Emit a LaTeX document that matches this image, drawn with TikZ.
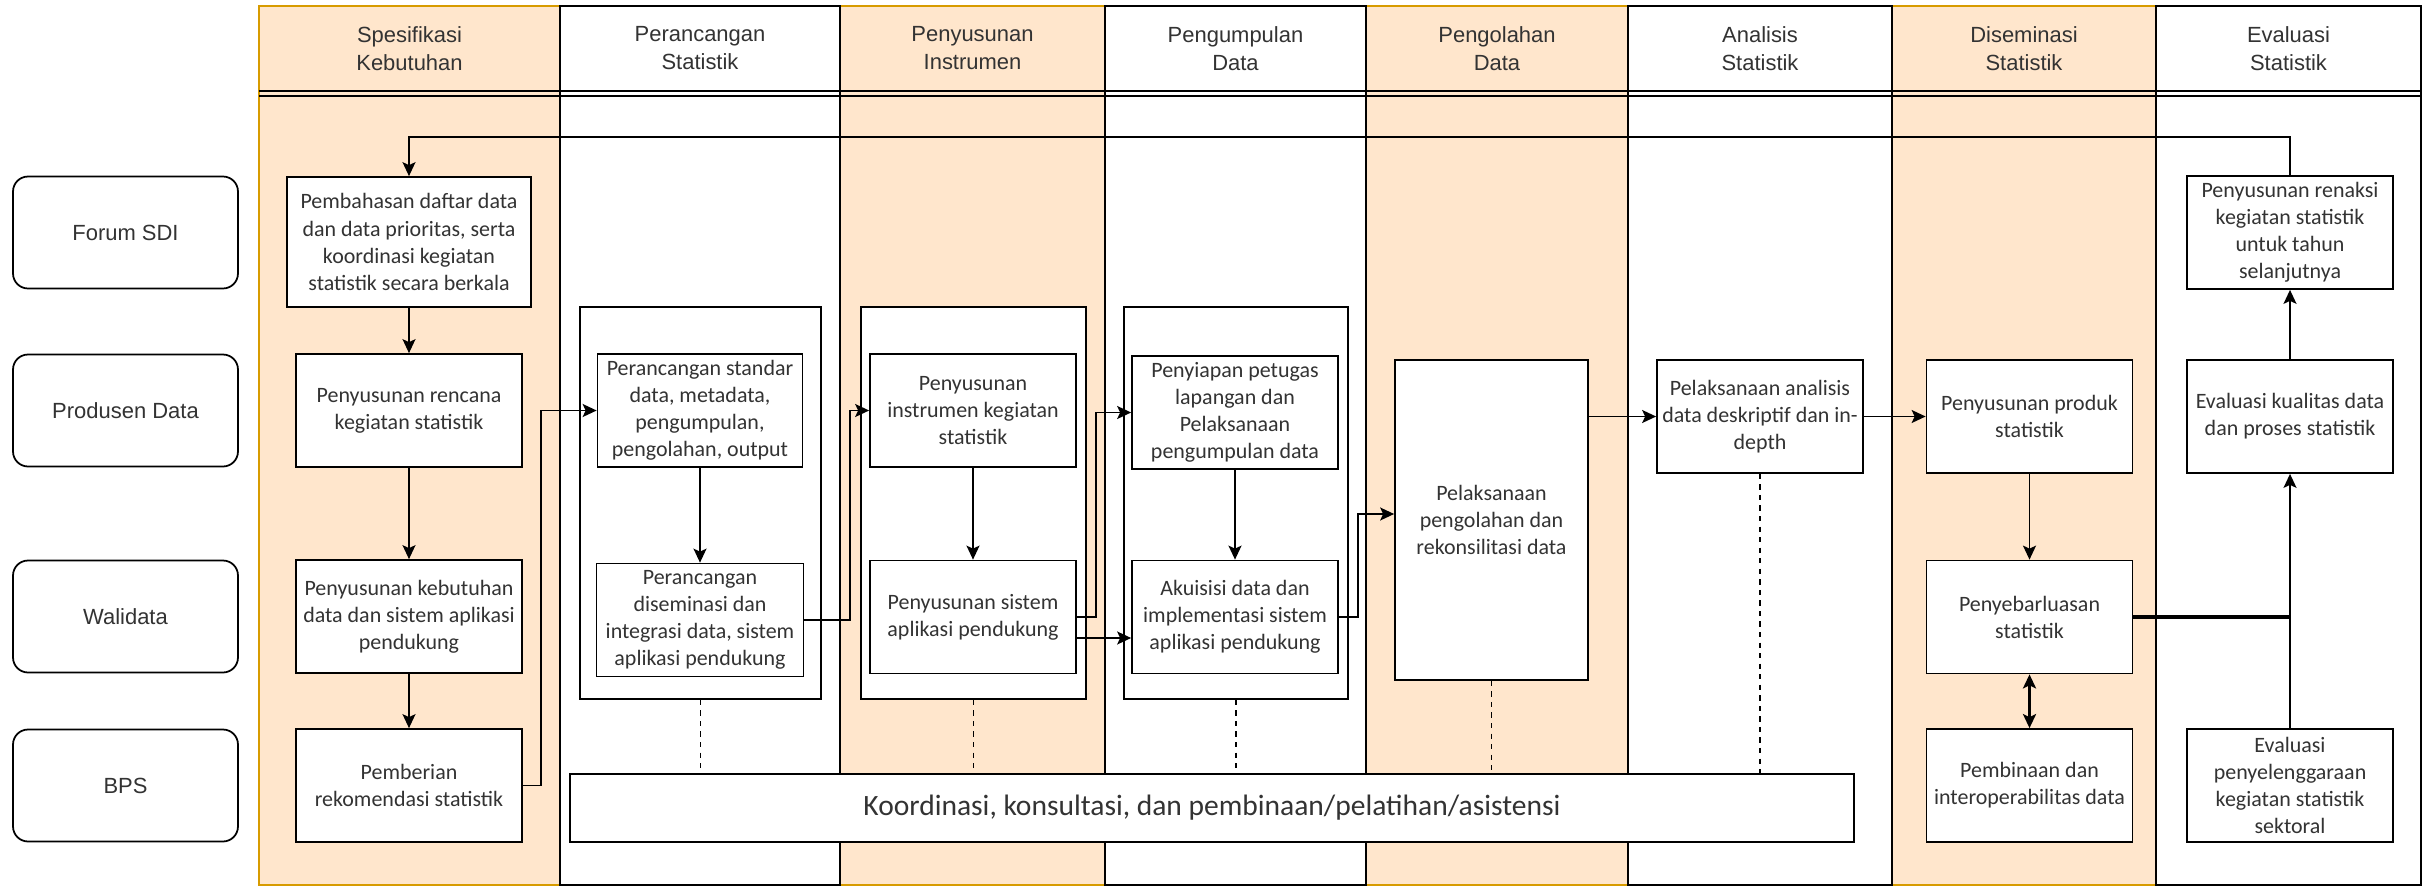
\documentclass[tikz,border=0pt]{standalone}
\usepackage{fontspec}
\setmainfont{Carlito}
\newfontfamily\helvfont{Liberation Sans}
\usetikzlibrary{arrows.meta}
\definecolor{laneorange}{HTML}{FFE6CC}
\definecolor{lanegold}{HTML}{D79B00}
\definecolor{txtgray}{HTML}{333333}

\begin{document}
\begin{tikzpicture}[x=0.02cm, y=-0.02cm,
    olane/.style={draw=lanegold, fill=laneorange, line width=1pt},
    wlane/.style={draw=black, fill=white, line width=1pt},
    head/.style={align=center, text=txtgray, font=\helvfont\fontsize{12.5}{15.9}\selectfont},
    role/.style={draw, rounded corners=0.3cm, minimum width=4.5cm, minimum height=2.24cm, line width=1pt, text=txtgray, font=\helvfont\fontsize{12.5}{15}\selectfont},
    box/.style={draw, fill=white, align=center, inner sep=1pt, minimum width=4.12cm, minimum height=2.26cm, line width=1pt, text=txtgray, font=\fontsize{12.5}{15.4}\selectfont},
    grp/.style={draw, fill=white, minimum height=7.84cm, line width=1pt},
    flow/.style={-{Stealth[length=0.28cm, width=0.26cm, inset=0.06cm]}, line width=1pt},
    link/.style={dashed, line width=0.8pt}]
    \useasboundingbox (0,0) rectangle (2425,886);
    \fill[white] (0,0) rectangle (2425,886);

    % swimlanes
    \draw[olane] (259,6) rectangle (560,885);
    \draw[olane] (840,6) rectangle (1105,885);
    \draw[olane] (1366,6) rectangle (1628,885);
    \draw[olane] (1892,6) rectangle (2156,885);
    \draw[wlane] (560,6) rectangle (840,885);
    \draw[wlane] (1105,6) rectangle (1366,885);
    \draw[wlane] (1628,6) rectangle (1892,885);
    \draw[wlane] (2156,6) rectangle (2421,885);
    \draw[line width=1pt] (259,91) -- (2421,91);
    \draw[line width=1pt] (259,96) -- (2421,96);

    \node[head] (hSpek) at (409.5,48.5) {Spesifikasi\\Kebutuhan};
    \node[head] (hRancang) at (700,48.5) {Perancangan\\Statistik};
    \node[head] (hInstrumen) at (972.5,48.5) {Penyusunan\\Instrumen};
    \node[head] (hKumpul) at (1235.5,48.5) {Pengumpulan\\Data};
    \node[head] (hOlah) at (1497,48.5) {Pengolahan\\Data};
    \node[head] (hAnalisis) at (1760,48.5) {Analisis\\Statistik};
    \node[head] (hSebar) at (2024,48.5) {Diseminasi\\Statistik};
    \node[head] (hEval) at (2288.5,48.5) {Evaluasi\\Statistik};

    % actors
    \node[role] (forum) at (125.5,232.5) {Forum SDI};
    \node[role] (produsen) at (125.5,410.5) {Produsen Data};
    \node[role] (walidata) at (125.5,616.5) {Walidata};
    \node[role] (bps) at (125.5,785.5) {BPS};

    % group frames
    \node[grp, minimum width=4.82cm] (gRancang) at (700.5,503) {};
    \node[grp, minimum width=4.5cm] (gInstrumen) at (973.5,503) {};
    \node[grp, minimum width=4.48cm] (gKumpul) at (1236,503) {};

    % steps
    \node[box, minimum width=4.88cm, minimum height=2.6cm] (pemb) at (409,242) {Pembahasan daftar data\\dan data prioritas, serta\\koordinasi kegiatan\\statistik secara berkala};
    \node[box, minimum width=4.52cm] (rencana) at (409,410.5) {Penyusunan rencana\\kegiatan statistik};
    \node[box, minimum width=4.52cm] (kebutuhan) at (409,616.5) {Penyusunan kebutuhan\\data dan sistem aplikasi\\pendukung};
    \node[box, minimum width=4.52cm] (rekom) at (409,785.5) {Pemberian\\rekomendasi statistik};
    \node[box, minimum width=4.1cm] (standar) at (700,410.5) {Perancangan standar\\data, metadata,\\pengumpulan,\\pengolahan, output};
    \node[box, minimum width=4.14cm] (desain) at (700,620) {Perancangan\\diseminasi dan\\integrasi data, sistem\\aplikasi pendukung};
    \node[box] (instrumen) at (973,410.5) {Penyusunan\\instrumen kegiatan\\statistik};
    \node[box] (sistem) at (973,617) {Penyusunan sistem\\aplikasi pendukung};
    \node[box] (petugas) at (1235,412.5) {Penyiapan petugas\\lapangan dan\\Pelaksanaan\\pengumpulan data};
    \node[box] (akuisisi) at (1235,617) {Akuisisi data dan\\implementasi sistem\\aplikasi pendukung};
    \node[box, minimum width=3.86cm, minimum height=6.4cm] (olah) at (1491.5,520) {Pelaksanaan\\pengolahan dan\\rekonsilitasi data};
    \node[box] (analisis) at (1760,416.5) {Pelaksanaan analisis\\data deskriptif dan in-\\depth};
    \node[box] (produk) at (2029.5,416.5) {Penyusunan produk\\statistik};
    \node[box] (sebar) at (2029.5,617) {Penyebarluasan\\statistik};
    \node[box] (bina) at (2029.5,785.5) {Pembinaan dan\\interoperabilitas data};
    \node[box] (renaksi) at (2290,232.5) {Penyusunan renaksi\\kegiatan statistik\\untuk tahun\\selanjutnya};
    \node[box] (kualitas) at (2290,416.5) {Evaluasi kualitas data\\dan proses statistik};
    \node[box] (evalsek) at (2290,785.5) {Evaluasi\\penyelenggaraan\\kegiatan statistik\\sektoral};
    \node[box, minimum width=25.68cm, minimum height=1.36cm, font=\fontsize{16.8}{20}\selectfont] (koord) at (1212,808) {Koordinasi, konsultasi, dan pembinaan/pelatihan/asistensi};

    % flow
    \draw[flow] (renaksi.north) -- ++(0,-38) -| (pemb.north);
    \draw[flow] (pemb) -- (rencana);
    \draw[flow] (rencana) -- (kebutuhan);
    \draw[flow] (kebutuhan) -- (rekom);
    \draw[flow] (rekom.east) -- ++(18,0) |- (standar.west);
    \draw[flow] (standar) -- (desain);
    \draw[flow] (desain.east) -- ++(46,0) |- (instrumen.west);
    \draw[flow] (instrumen) -- (sistem);
    \draw[flow] (sistem.east) -- ++(19,0) |- (petugas.west);
    \draw[flow] ([yshift=-0.42cm]sistem.east) -- ([yshift=-0.42cm]akuisisi.west);
    \draw[flow] (petugas) -- (akuisisi);
    \draw[flow] (akuisisi.east) -- ++(19,0) |- ([yshift=0.12cm]olah.west);
    \draw[flow] (olah.east |- analisis.west) -- (analisis.west);
    \draw[flow] (analisis) -- (produk);
    \draw[flow] (produk) -- (sebar);
    \draw[{Stealth[length=0.28cm, width=0.26cm, inset=0.06cm]}-{Stealth[length=0.28cm, width=0.26cm, inset=0.06cm]}, line width=1.6pt] (sebar) -- (bina);
    \draw[flow] (evalsek.north) -- (kualitas.south);
    \draw[line width=2pt] (sebar.east) -- (sebar.east -| evalsek.north);
    \draw[flow] (kualitas) -- (renaksi);

    % dashed links to coordination bar
    \draw[link] (gRancang.south) -- (gRancang.south |- koord.north);
    \draw[link] (gInstrumen.south) -- (gInstrumen.south |- koord.north);
    \draw[link] (gKumpul.south) -- (gKumpul.south |- koord.north);
    \draw[link] (olah.south) -- (olah.south |- koord.north);
    \draw[link] (analisis.south) -- (analisis.south |- koord.north);
\end{tikzpicture}
\end{document}
